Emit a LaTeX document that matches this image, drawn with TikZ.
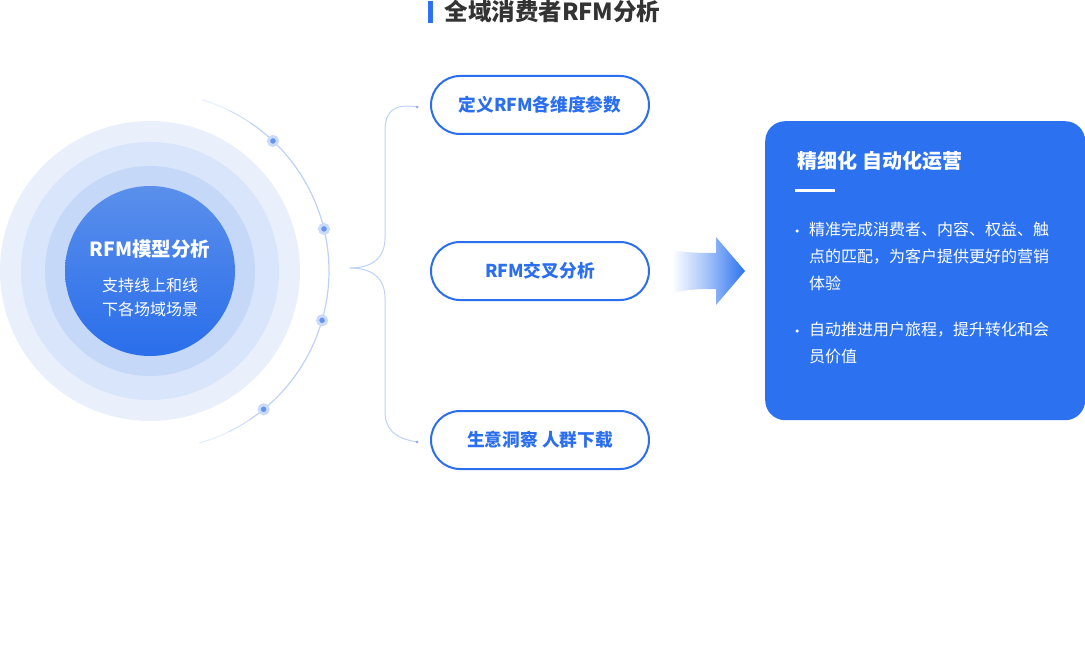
\documentclass[tikz,border=0pt]{standalone}
\usepackage{fontspec}
\setmainfont{Noto Sans CJK SC}
\usepackage{xcolor}
\usetikzlibrary{positioning, calc, shapes.geometric}
\definecolor{mainblue}{RGB}{44,114,240}
\definecolor{pillblue}{RGB}{43,111,239}
\definecolor{titlegray}{RGB}{51,51,51}
\definecolor{ringone}{RGB}{233,240,252}
\definecolor{ringtwo}{RGB}{216,229,250}
\definecolor{ringthree}{RGB}{197,216,248}
\definecolor{coretop}{RGB}{90,143,235}
\definecolor{corebottom}{RGB}{42,110,235}
\definecolor{linkblue}{RGB}{190,210,246}
\definecolor{dotblue}{RGB}{100,148,240}

\begin{document}
\begin{tikzpicture}[
    x=1pt, y=-1pt,
    pill/.style={rectangle, draw=pillblue, line width=2pt, fill=white, rounded corners=29pt,
        minimum width=218pt, minimum height=58pt, text=pillblue, font=\fontsize{17.7}{21}\selectfont\bfseries},
    orbitdot/.style={circle, fill=dotblue, draw=dotblue!35, line width=3pt, inner sep=0pt, minimum size=9pt},
    enddot/.style={circle, fill=linkblue!80!blue, inner sep=0pt, minimum size=3pt},
    bullettext/.style={anchor=north west, inner sep=0pt, align=left, text=white,
        font=\fontsize{16}{27}\selectfont}
]
\useasboundingbox (0,0) rectangle (1085,650);

% Title
\fill[mainblue] (428,1) rectangle (433,23);
\node[anchor=west, text=titlegray, font=\fontsize{23.5}{26}\selectfont\bfseries] (title) at (441,12) {全域消费者RFM分析};

% Rings
\coordinate (center) at (150,271);
\fill[ringone] (center) circle (150);
\fill[ringtwo] (center) circle (129);
\fill[ringthree] (center) circle (105);
\node[circle, minimum size=170pt, inner sep=0pt, top color=coretop, bottom color=corebottom] (core) at (center) {};
\node[text=white, font=\fontsize{19.5}{22}\selectfont\bfseries] (coretitle) at (150,249) {RFM模型分析};
\node[text=white, align=center, font=\fontsize{16}{24}\selectfont] (coretext) at (150,297) {支持线上和线\\下各场域场景};

% Orbit
\draw[linkblue!40, line width=1pt] ($(center)+(-73:179)$) arc (-73:-64:179);
\draw[linkblue!70, line width=1.1pt] ($(center)+(-64:179)$) arc (-64:-56:179);
\draw[linkblue, line width=1.2pt] ($(center)+(-56:179)$) arc (-56:56:179);
\draw[linkblue!70, line width=1.1pt] ($(center)+(56:179)$) arc (56:64:179);
\draw[linkblue!40, line width=1pt] ($(center)+(64:179)$) arc (64:74:179);
\node[orbitdot] (o1) at ($(center)+(-46.6:179)$) {};
\node[orbitdot] (o2) at ($(center)+(-13.6:179)$) {};
\node[orbitdot] (o3) at ($(center)+(16:179)$) {};
\node[orbitdot] (o4) at ($(center)+(50.6:179)$) {};

% Steps
\node[pill] (define) at (540,105) {定义RFM各维度参数};
\node[pill] (cross) at (540,271) {RFM交叉分析};
\node[pill] (insight) at (540,440) {生意洞察 人群下载};

% Brace
\coordinate (tip) at (350,268);
\coordinate (topend) at ([xshift=-13pt,yshift=-2pt]define.west);
\coordinate (botend) at ([xshift=-13pt,yshift=-2pt]insight.west);
\draw[linkblue, line width=1pt] (tip) .. controls (372,268) and (385,258) .. (385,238)
    -- (385,130) .. controls (385,112) and (394,103) .. (topend);
\draw[linkblue, line width=1pt] (tip) .. controls (372,268) and (385,278) .. (385,298)
    -- (385,411) .. controls (385,429) and (394,438) .. (botend);
\node[enddot] at (topend) {};
\node[enddot] at (botend) {};

% Arrow
\shade[left color=white, right color=mainblue, middle color=mainblue!45]
    (672,250) .. controls (690,253) and (700,253) .. (716,253) -- (716,237) -- (745,271)
    -- (716,305) -- (716,289) .. controls (700,289) and (690,289) .. (672,293) -- cycle;

% Result
\node[rectangle, fill=mainblue, rounded corners=20pt, minimum width=320pt, minimum height=299pt,
    anchor=north west] (result) at (765,121) {};
\node[anchor=west, text=white, font=\fontsize{20}{24}\selectfont\bfseries] (resulttitle) at (794,161) {精细化 自动化运营};
\fill[white] (795,189.5) rectangle (835,192.5);
\node[circle, fill=white, inner sep=0pt, minimum size=3.5pt] (b1) at (797,231) {};
\node[bullettext] (t1) at (809,222) {精准完成消费者、内容、权益、触\\点的匹配，为客户提供更好的营销\\体验};
\node[circle, fill=white, inner sep=0pt, minimum size=3.5pt] (b2) at (797,331) {};
\node[bullettext] (t2) at (809,322) {自动推进用户旅程，提升转化和会\\员价值};

\end{tikzpicture}
\end{document}
